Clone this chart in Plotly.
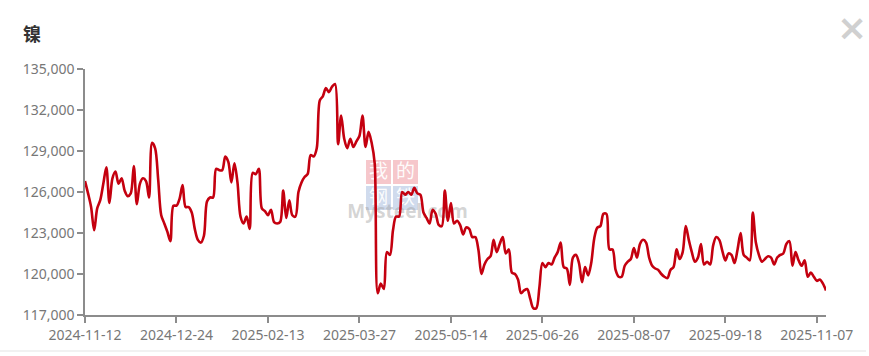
import pandas as pd
import plotly.graph_objects as go

title = "镍"
start_date = "2024-11-12"
end_date = "2025-11-12"
holidays = ["2025-01-01", "2025-01-28", "2025-01-29", "2025-01-30", "2025-01-31",
            "2025-02-03", "2025-02-04", "2025-04-04", "2025-05-01", "2025-05-02",
            "2025-05-05", "2025-06-02", "2025-10-01", "2025-10-02", "2025-10-03",
            "2025-10-06", "2025-10-07", "2025-10-08"]
tick_labels = ["2024-11-12", "2024-12-24", "2025-02-13", "2025-03-27", "2025-05-14",
               "2025-06-26", "2025-08-07", "2025-09-18", "2025-11-07"]

prices = [
    126800, 125900, 124900, 123200, 124800, 125400, 126600, 127800, 125200, 127000,
    127500, 126600, 127000, 126100, 125700, 125900, 127900, 125100, 126600, 127000,
    126800, 125600, 129600, 129200, 126900, 124300, 123700, 123100, 122400, 125000,
    125000, 125500, 126500, 124900, 124900, 124500, 123300, 122500, 122300, 122800,
    125300, 125600, 125600, 127700, 127600, 127600, 128600, 128200, 126700, 128100,
    126700, 124200, 123700, 124200, 123300, 127400, 127300, 127700, 124800, 124600,
    124300, 124700, 123800, 123700, 123800, 126100, 124100, 125400, 124300, 124200,
    126000, 126700, 127100, 127300, 128700, 128600, 129200, 132700, 133000, 133600,
    133300, 133700, 133900, 129500, 131600, 129900, 129200, 129900, 129300, 129700,
    130100, 131600, 129300, 130400, 129600, 128100, 118600, 119300, 118900, 121600,
    121400, 123200, 124200, 124200, 126000, 125800, 126000, 125800, 126300, 125900,
    125800, 124500, 124100, 123700, 124700, 124400, 123600, 123500, 126100, 123900,
    125200, 123700, 123900, 123600, 122900, 123400, 123300, 122700, 122700, 121800,
    120000, 120700, 121100, 121300, 122500, 121600, 122200, 122700, 121500, 121800,
    120100, 120000, 119600, 118600, 118800, 118900, 118200, 117500, 117500, 119000,
    120800, 120500, 120800, 120700, 121200, 121600, 122300, 120500, 120400, 119200,
    121200, 121400, 120800, 119400, 120500, 119900, 120800, 122600, 123400, 123500,
    124400, 124400, 121800, 121800, 120300, 119800, 119800, 120600, 120900, 121100,
    121900, 121200, 122200, 122500, 122300, 121200, 120600, 120400, 120300, 120000,
    119800, 119700, 120300, 120500, 121800, 121100, 121600, 123500, 122500, 121600,
    120900, 121200, 122200, 120700, 120900, 120700, 122100, 122700, 122500, 121700,
    121000, 121500, 121400, 120800, 121800, 123000, 121400, 121200, 121000, 124500,
    122300, 121400, 120900, 121100, 121300, 121200, 120700, 121200, 121400, 121500,
    122200, 122400, 120600, 121600, 121000, 120600, 121000, 119800, 120100, 119800,
    119500, 119600, 119300, 118800,
]

days = pd.bdate_range(start_date, end_date)
days = [d.strftime("%Y-%m-%d") for d in days if d.strftime("%Y-%m-%d") not in holidays]
n = min(len(days), len(prices))
dates = days[:n]
vals = prices[:n]

W, H = 869, 356
L, R, T, B = 85, 43, 69, 41
pw, ph = W - L - R, H - T - B


def px(x):
    return (x - L) / pw


def py(y):
    return (H - B - y) / ph


fig = go.Figure()
fig.add_trace(go.Scatter(
    x=dates, y=vals, mode="lines",
    line=dict(color="#c4000f", width=2.6, shape="spline", smoothing=0.9),
    hoverinfo="skip",
))

axis_font = dict(family="Noto Sans, DejaVu Sans, sans-serif", size=14, color="#777777")

fig.update_layout(
    width=W, height=H,
    margin=dict(l=L, r=R, t=T, b=B, pad=0),
    paper_bgcolor="white", plot_bgcolor="white",
    showlegend=False,
    xaxis=dict(
        type="category", range=[0, n - 1],
        tickmode="array", tickvals=tick_labels, ticktext=tick_labels,
        showgrid=False, zeroline=False,
        showline=True, linecolor="#8c8c8c", linewidth=1.5,
        ticks="outside", ticklen=6, tickcolor="#8c8c8c", tickwidth=1.5,
        tickfont=axis_font,
    ),
    yaxis=dict(
        range=[117000, 135000], tick0=117000, dtick=3000,
        tickformat=",d", showgrid=False, zeroline=False,
        showline=True, linecolor="#8c8c8c", linewidth=1.5,
        ticks="outside", ticklen=6, tickcolor="#8c8c8c", tickwidth=1.5,
        tickfont=axis_font,
    ),
)

# title
fig.add_annotation(
    text="<b>" + title + "</b>", xref="paper", yref="paper",
    x=px(21), y=py(33), xanchor="left", yanchor="middle", showarrow=False,
    font=dict(family="Noto Sans CJK SC", size=18, color="#333333"),
)
# close icon
fig.add_annotation(
    text="<b>×</b>", xref="paper", yref="paper",
    x=px(852), y=py(28), xanchor="center", yanchor="middle", showarrow=False,
    font=dict(family="DejaVu Sans", size=36, color="#d0d0d0"),
)

# watermark: drawn as shapes below the data line
wm_font = dict(family="Noto Sans CJK SC", size=19, color="rgba(255,255,255,0.95)")
red = "rgba(236,130,140,0.45)"
blue = "rgba(150,175,215,0.45)"
for ch, x0, y0, col in [("我", 366, 160, red), ("的", 393, 160, red),
                         ("钢", 366, 186, blue), ("铁", 393, 186, blue)]:
    fig.add_shape(
        type="rect", xref="paper", yref="paper", layer="below",
        x0=px(x0), x1=px(x0 + 25), y0=py(y0 + 24), y1=py(y0),
        fillcolor=col, line=dict(width=0),
        label=dict(text=ch, font=wm_font, textposition="middle center"),
    )
fig.add_shape(
    type="rect", xref="paper", yref="paper", layer="below",
    x0=px(345), x1=px(470), y0=py(224), y1=py(200),
    fillcolor="rgba(0,0,0,0)", line=dict(width=0),
    label=dict(text="<b>Mysteel.com</b>", textposition="middle center",
               font=dict(family="Noto Sans", size=19, color="rgba(160,160,160,0.45)")),
)

# bottom separator line
fig.add_shape(
    type="line", xref="paper", yref="paper",
    x0=px(0), x1=px(866), y0=py(351), y1=py(351),
    line=dict(color="#e3e3e3", width=1),
)

fig.write_html("out.html", config={"displayModeBar": False},
               post_script="document.body.style.margin='0';")
